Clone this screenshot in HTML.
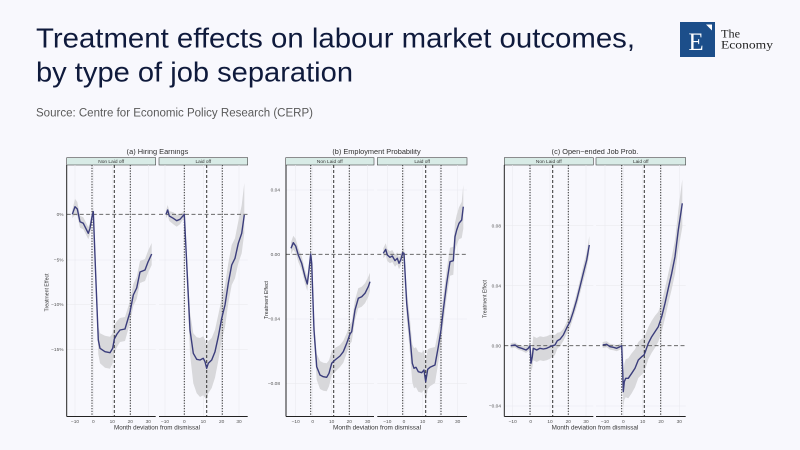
<!DOCTYPE html>
<html><head><meta charset="utf-8"><style>
html,body{margin:0;padding:0;background:#f8f8fd;}
svg{display:block;}
</style></head><body>
<svg width="800" height="450" viewBox="0 0 800 450" xmlns="http://www.w3.org/2000/svg">
<rect width="800" height="450" fill="#f8f8fd"/>
<!-- Header -->
<text x="36" y="47.3" font-family="Liberation Sans, sans-serif" font-size="28" fill="#0f1a3c" textLength="599" lengthAdjust="spacingAndGlyphs">Treatment effects on labour market outcomes,</text>
<text x="36" y="81.7" font-family="Liberation Sans, sans-serif" font-size="28" fill="#0f1a3c" textLength="317" lengthAdjust="spacingAndGlyphs">by type of job separation</text>
<text x="36" y="116.5" font-family="Liberation Sans, sans-serif" font-size="11.5" fill="#5a5a5a" textLength="277" lengthAdjust="spacingAndGlyphs">Source: Centre for Economic Policy Research (CERP)</text>
<!-- Logo -->
<rect x="680" y="22" width="35" height="35" fill="#1c4e8a"/>
<text x="696" y="50" font-family="Liberation Serif, serif" font-size="25" fill="#ffffff" text-anchor="middle">E</text>
<polygon points="706,24.5 712,24.5 712,30.5" fill="#ffffff"/>
<text x="721" y="37.5" font-family="Liberation Serif, serif" font-size="12" fill="#222" textLength="19" lengthAdjust="spacingAndGlyphs">The</text>
<text x="721" y="48.5" font-family="Liberation Serif, serif" font-size="12" fill="#222" textLength="52" lengthAdjust="spacingAndGlyphs">Economy</text>

<g font-family="Liberation Sans, sans-serif" filter="url(#bl)">
<defs><filter id="bl" x="0" y="0" width="1" height="1"><feGaussianBlur stdDeviation="0.35"/></filter></defs>

<!-- ========== PANEL A ========== -->
<text x="157.5" y="154" font-size="7" fill="#333" text-anchor="middle" textLength="61.7" lengthAdjust="spacingAndGlyphs">(a) Hiring Earnings</text>
<rect x="66.7" y="157.7" width="89" height="7.3" fill="#d8ebe6" stroke="#444" stroke-width="0.6"/>
<rect x="159" y="157.7" width="88.7" height="7.3" fill="#d8ebe6" stroke="#444" stroke-width="0.6"/>
<text x="111.2" y="163.2" font-size="4.8" fill="#333" text-anchor="middle">Non Laid off</text>
<text x="203.3" y="163.2" font-size="4.8" fill="#333" text-anchor="middle">Laid off</text>
<g stroke="#eaeaf0" stroke-width="0.6">
<line x1="75" y1="165" x2="75" y2="416"/><line x1="93.3" y1="165" x2="93.3" y2="416"/><line x1="112.3" y1="165" x2="112.3" y2="416"/><line x1="130.3" y1="165" x2="130.3" y2="416"/><line x1="148.3" y1="165" x2="148.3" y2="416"/>
<line x1="165" y1="165" x2="165" y2="416"/><line x1="184.3" y1="165" x2="184.3" y2="416"/><line x1="203.3" y1="165" x2="203.3" y2="416"/><line x1="221.7" y1="165" x2="221.7" y2="416"/><line x1="239" y1="165" x2="239" y2="416"/>
<line x1="66.7" y1="260" x2="155.7" y2="260"/><line x1="66.7" y1="304.3" x2="155.7" y2="304.3"/><line x1="66.7" y1="349.3" x2="155.7" y2="349.3"/>
<line x1="159" y1="260" x2="247.7" y2="260"/><line x1="159" y1="304.3" x2="247.7" y2="304.3"/><line x1="159" y1="349.3" x2="247.7" y2="349.3"/>
</g>
<g fill="#d8d8db">
<polygon points="72.3,210.3 75,198.7 77.3,202 80,215.7 83.3,217.3 88.3,227.3 90,222.3 92,211.7 93.3,207.7 95.5,260 98.3,326 100,333.3 105,335.7 110,336.7 112.7,333.3 114.3,325 117,321 120,318 125,317 130,301 133.3,284 136.7,277 140,261 145,259 148,251 151.7,243 151.7,265 148,273 145,281 140,283 136.7,299 133.3,306 130,323 125,341 120,342 117,347 114.3,353 112.7,363.3 110,368.7 105,367.7 100,363.3 98.3,354 95.5,280 93.3,215.7 92,221.7 90,234.3 88.3,239.3 83.3,229.3 80,227.7 77.3,216 75,214.7 72.3,218.3"/>
<polygon points="166,210.3 167.7,205 169.3,211 173.3,212.3 176.7,214.7 180,214.3 184.3,211.3 186.7,251.3 190,312 193.3,333.3 196.7,337.3 200,338 203.3,336.3 205,339.7 206.7,345.3 208.3,341.3 211.7,338 215,329.7 218.3,314.7 221.7,298.3 225,285 228.3,263.3 231.7,245 235,238.3 238.3,221.3 241.7,205.3 244.3,183 244.3,233 241.7,253.3 238.3,263.3 235,278.3 231.7,285 228.3,303.3 225,327 221.7,340.3 218.3,360.7 215,377.7 211.7,388 208.3,393.3 206.7,400.3 205,397.7 203.3,395.3 200,397 196.7,393.3 193.3,383.3 190,354 186.7,277.3 184.3,217.3 180,224.3 176.7,226.7 173.3,224.3 169.3,221 167.7,215 166,218.3"/>
</g>
<g stroke="#333" stroke-width="1" stroke-dasharray="1.3,1.4">
<line x1="92" y1="165" x2="92" y2="416"/><line x1="114.3" y1="165" x2="114.3" y2="416" stroke-dasharray="3,2"/><line x1="130.3" y1="165" x2="130.3" y2="416"/>
<line x1="184.3" y1="165" x2="184.3" y2="416"/><line x1="206.7" y1="165" x2="206.7" y2="416" stroke-dasharray="3,2"/><line x1="222.3" y1="165" x2="222.3" y2="416"/>
</g>
<g stroke="#555" stroke-width="0.9" stroke-dasharray="4,2.5">
<line x1="66.7" y1="214.3" x2="155.7" y2="214.3"/><line x1="159" y1="214.3" x2="247.7" y2="214.3"/>
</g>
<g fill="none" stroke="#3b3e7c" stroke-width="1.4" stroke-linejoin="round">
<polyline points="72.3,214.3 75,206.7 77.3,209 80,221.7 83.3,223.3 88.3,233.3 90,228.3 92,216.7 93.3,211.7 95.5,270 98.3,340 100,348.3 105,351.7 110,352.7 112.7,348.3 114.3,339 117,334 120,330 125,329 130,312 133.3,295 136.7,288 140,272 145,270 148,262 151.7,254"/>
<polyline points="166,214.3 167.7,210 169.3,216 173.3,218.3 176.7,220.7 180,219.3 184.3,214.3 186.7,263.3 190,330 193.3,353.3 196.7,359.3 200,360 203.3,358.3 205,361.7 206.7,368.3 208.3,363.3 211.7,360 215,351.7 218.3,336.7 221.7,318.3 225,305 228.3,283.3 231.7,265 235,258.3 238.3,243.3 241.7,233.3 244.3,215"/>
</g>
<g stroke="#222" stroke-width="1">
<line x1="66.7" y1="165" x2="66.7" y2="416.5"/>
<line x1="66.7" y1="416.5" x2="155.7" y2="416.5"/><line x1="159" y1="416.5" x2="247.7" y2="416.5"/>
</g>
<g font-size="4.8" fill="#555" text-anchor="end">
<text x="63.5" y="216">0%</text><text x="63.5" y="261.7">−5%</text><text x="63.5" y="306">−10%</text><text x="63.5" y="351">−15%</text>
</g>
<g font-size="4.8" fill="#555" text-anchor="middle">
<text x="75" y="423">−10</text><text x="93.3" y="423">0</text><text x="112.3" y="423">10</text><text x="130.3" y="423">20</text><text x="148.3" y="423">30</text>
<text x="165" y="423">−10</text><text x="184.3" y="423">0</text><text x="203.3" y="423">10</text><text x="221.7" y="423">20</text><text x="239" y="423">30</text>
</g>
<text x="157" y="429.5" font-size="6" fill="#333" text-anchor="middle" textLength="86" lengthAdjust="spacingAndGlyphs">Month deviation from dismissal</text>
<text transform="translate(48.5,292.5) rotate(-90)" font-size="5" fill="#333" text-anchor="middle" textLength="38" lengthAdjust="spacingAndGlyphs">Treatment Effect</text>

<!-- ========== PANEL B ========== -->
<text x="376.5" y="154" font-size="7" fill="#333" text-anchor="middle" textLength="88.3" lengthAdjust="spacingAndGlyphs">(b) Employment Probability</text>
<rect x="285.7" y="157.7" width="88.3" height="7.3" fill="#d8ebe6" stroke="#444" stroke-width="0.6"/>
<rect x="377.3" y="157.7" width="89.7" height="7.3" fill="#d8ebe6" stroke="#444" stroke-width="0.6"/>
<text x="329.8" y="163.2" font-size="4.8" fill="#333" text-anchor="middle">Non Laid off</text>
<text x="422.2" y="163.2" font-size="4.8" fill="#333" text-anchor="middle">Laid off</text>
<g stroke="#eaeaf0" stroke-width="0.6">
<line x1="295.7" y1="165" x2="295.7" y2="416"/><line x1="312.7" y1="165" x2="312.7" y2="416"/><line x1="331.7" y1="165" x2="331.7" y2="416"/><line x1="349.3" y1="165" x2="349.3" y2="416"/><line x1="367.7" y1="165" x2="367.7" y2="416"/>
<line x1="387.3" y1="165" x2="387.3" y2="416"/><line x1="404" y1="165" x2="404" y2="416"/><line x1="422.7" y1="165" x2="422.7" y2="416"/><line x1="440" y1="165" x2="440" y2="416"/><line x1="457.7" y1="165" x2="457.7" y2="416"/>
<line x1="286" y1="190" x2="374" y2="190"/><line x1="286" y1="319" x2="374" y2="319"/><line x1="286" y1="383.3" x2="374" y2="383.3"/>
<line x1="377.3" y1="190" x2="467" y2="190"/><line x1="377.3" y1="319" x2="467" y2="319"/><line x1="377.3" y1="383.3" x2="467" y2="383.3"/>
</g>
<g fill="#d8d8db">
<polygon points="291,242.3 293.3,235.7 295.7,239 298.3,248 301.7,256.3 305,269.7 307.3,277 309,263 310.7,249 311.7,256.3 314,319 316.7,353.7 320,361 323.3,362.7 326.7,363.3 329,360.3 331.7,351.3 335,348 340,345 343.3,340.7 346.7,333.3 350,324 351.7,321.7 355,300 358.3,288.3 361.7,286.7 365,283.3 368.3,276.7 370,272.7 370,290.7 368.3,296.7 365,303.3 361.7,306.7 358.3,308.3 355,320 351.7,341.7 350,344 346.7,353.3 343.3,362.7 340,367 335,372 331.7,375.3 329,386.3 326.7,391.3 323.3,390.7 320,389 316.7,379.7 314,341 311.7,270.3 310.7,259 309,277 307.3,291 305,283.7 301.7,270.3 298.3,262 295.7,253 293.3,249.7 291,254.3"/>
<polygon points="383.3,248.3 385.7,243.3 387.3,249 390,251.3 392.3,250 395,254.7 397.3,252.3 399,257.3 400.7,254 402.7,248.7 404,248.3 406.7,289.3 410,319.7 412.3,344.3 414,348.3 416,347.3 418.3,351.7 421.7,352.7 424,350 425.7,361.7 427.7,349.3 430,348.3 435,347 438.3,330.7 441,315 443.3,296 446.7,269.3 450,247.7 453.3,246.7 455,222.7 456.7,215 459,207.3 461.7,202 463.3,184.7 463.3,228.7 461.7,238 459,239.3 456.7,245 455,250.7 453.3,274.7 450,275.7 446.7,297.3 443.3,324 441,345 438.3,362.7 435,383 430,386.3 427.7,389.3 425.7,401.7 424,390 421.7,392.7 418.3,391.7 416,387.3 414,388.3 412.3,382.3 410,353.7 406.7,317.3 404,258.3 402.7,256.7 400.7,266 399,269.3 397.3,264.3 395,266.7 392.3,262 390,263.3 387.3,261 385.7,255.3 383.3,258.3"/>
</g>
<g stroke="#333" stroke-width="1" stroke-dasharray="1.3,1.4">
<line x1="310.7" y1="165" x2="310.7" y2="416"/><line x1="333.7" y1="165" x2="333.7" y2="416" stroke-dasharray="3,2"/><line x1="349.3" y1="165" x2="349.3" y2="416"/>
<line x1="402.7" y1="165" x2="402.7" y2="416"/><line x1="425.7" y1="165" x2="425.7" y2="416" stroke-dasharray="3,2"/><line x1="441" y1="165" x2="441" y2="416"/>
</g>
<g stroke="#555" stroke-width="0.9" stroke-dasharray="4,2.5">
<line x1="286" y1="254.3" x2="374" y2="254.3"/><line x1="377.3" y1="254.3" x2="467" y2="254.3"/>
</g>
<g fill="none" stroke="#3b3e7c" stroke-width="1.4" stroke-linejoin="round">
<polyline points="291,248.3 293.3,242.7 295.7,246 298.3,255 301.7,263.3 305,276.7 307.3,284 309,270 310.7,254 311.7,263.3 314,330 316.7,366.7 320,375 323.3,376.7 326.7,377.3 329,373.3 331.7,363.3 335,360 340,356 343.3,351.7 346.7,343.3 350,334 351.7,331.7 355,310 358.3,298.3 361.7,296.7 365,293.3 368.3,286.7 370,281.7"/>
<polyline points="383.3,253.3 385.7,249.3 387.3,255 390,257.3 392.3,256 395,260.7 397.3,258.3 399,263.3 400.7,260 402.7,252.7 404,253.3 406.7,303.3 410,336.7 412.3,363.3 414,368.3 416,367.3 418.3,371.7 421.7,372.7 424,370 425.7,381.7 427.7,369.3 430,367.3 435,365 438.3,346.7 441,330 443.3,310 446.7,283.3 450,261.7 453.3,260.7 455,236.7 456.7,230 459,223.3 461.7,220 463.3,206.7"/>
</g>
<g stroke="#222" stroke-width="1">
<line x1="286" y1="165" x2="286" y2="416.5"/>
<line x1="286" y1="416.5" x2="374" y2="416.5"/><line x1="377.3" y1="416.5" x2="467" y2="416.5"/>
</g>
<g font-size="4.8" fill="#555" text-anchor="end">
<text x="280" y="191.7">0.04</text><text x="280" y="256">0.00</text><text x="280" y="320.7">−0.04</text><text x="280" y="385">−0.08</text>
</g>
<g font-size="4.8" fill="#555" text-anchor="middle">
<text x="295.7" y="423">−10</text><text x="312.7" y="423">0</text><text x="331.7" y="423">10</text><text x="349.3" y="423">20</text><text x="367.7" y="423">30</text>
<text x="387.3" y="423">−10</text><text x="404" y="423">0</text><text x="422.7" y="423">10</text><text x="440" y="423">20</text><text x="457.7" y="423">30</text>
</g>
<text x="377" y="429.5" font-size="6" fill="#333" text-anchor="middle" textLength="88" lengthAdjust="spacingAndGlyphs">Month deviation from dismissal</text>
<text transform="translate(268,300) rotate(-90)" font-size="5" fill="#333" text-anchor="middle" textLength="38" lengthAdjust="spacingAndGlyphs">Treatment Effect</text>

<!-- ========== PANEL C ========== -->
<text x="595" y="154" font-size="7" fill="#333" text-anchor="middle" textLength="86.7" lengthAdjust="spacingAndGlyphs">(c) Open−ended Job Prob.</text>
<rect x="504.3" y="157.7" width="89" height="7.3" fill="#d8ebe6" stroke="#444" stroke-width="0.6"/>
<rect x="596" y="157.7" width="89.7" height="7.3" fill="#d8ebe6" stroke="#444" stroke-width="0.6"/>
<text x="548.8" y="163.2" font-size="4.8" fill="#333" text-anchor="middle">Non Laid off</text>
<text x="640.8" y="163.2" font-size="4.8" fill="#333" text-anchor="middle">Laid off</text>
<g stroke="#eaeaf0" stroke-width="0.6">
<line x1="512.7" y1="165" x2="512.7" y2="416"/><line x1="530.7" y1="165" x2="530.7" y2="416"/><line x1="550" y1="165" x2="550" y2="416"/><line x1="568.3" y1="165" x2="568.3" y2="416"/><line x1="586" y1="165" x2="586" y2="416"/>
<line x1="605" y1="165" x2="605" y2="416"/><line x1="623.3" y1="165" x2="623.3" y2="416"/><line x1="642.7" y1="165" x2="642.7" y2="416"/><line x1="661" y1="165" x2="661" y2="416"/><line x1="679.3" y1="165" x2="679.3" y2="416"/>
<line x1="504.3" y1="225.7" x2="593.3" y2="225.7"/><line x1="504.3" y1="285.7" x2="593.3" y2="285.7"/><line x1="504.3" y1="406" x2="593.3" y2="406"/>
<line x1="596" y1="225.7" x2="685.7" y2="225.7"/><line x1="596" y1="285.7" x2="685.7" y2="285.7"/><line x1="596" y1="406" x2="685.7" y2="406"/>
</g>
<g fill="#d8d8db">
<polygon points="510.7,343.2 515,342.5 518.3,344.8 521.7,345.8 526,347 528.3,345.3 530,342.7 531,355.3 532.3,345.7 533.3,336.3 536.7,338 540,336.3 543.3,337 546.7,336.3 550,334.7 552.7,334.7 555,335 557.3,332.7 560,332.3 563.3,329 567.3,320.7 570,315.7 573.3,305.7 576.7,293 580,279.7 583.3,265.3 586.7,252 589.3,236 589.3,254 586.7,268 583.3,281.3 580,293.7 576.7,307 573.3,317.7 570,327.7 567.3,332.7 563.3,341 560,346.3 557.3,348.7 555,355 552.7,356.7 550,358.7 546.7,360.3 543.3,361 540,360.3 536.7,362 533.3,360.3 532.3,367.7 531,371.3 530,348.7 528.3,351.3 526,353 521.7,350.8 518.3,349.8 515,347.5 510.7,348.2"/>
<polygon points="602.7,342 606.7,341.3 610,343.7 613.3,344.3 616.7,345.3 620,343.7 621.7,342.7 622.7,360 623.3,375.7 624.3,363.7 625.7,359.3 628.3,358.3 631.7,353.3 635,349.3 638.3,342 641.7,338.7 644,338 645.7,333.7 648.3,327.3 651.7,320.7 655,315.7 658.3,311.7 661.7,301.7 665,288.3 668.3,273.3 671.7,257.3 675,239.7 678.3,210 682.3,179.3 682.3,227.3 678.3,250 675,273.7 671.7,289.3 668.3,303.3 665,318.3 661.7,331.7 658.3,341.7 655,347.7 651.7,352.7 648.3,359.3 645.7,367.7 644,372 641.7,374.7 638.3,378 635,387.3 631.7,393.3 628.3,398.3 625.7,397.3 624.3,399.7 623.3,407.7 622.7,380 621.7,348.7 620,349.7 616.7,351.3 613.3,350.3 610,349.7 606.7,347.3 602.7,348"/>
</g>
<g stroke="#333" stroke-width="1" stroke-dasharray="1.3,1.4">
<line x1="530" y1="165" x2="530" y2="416"/><line x1="552.7" y1="165" x2="552.7" y2="416" stroke-dasharray="3,2"/><line x1="568.3" y1="165" x2="568.3" y2="416"/>
<line x1="621.7" y1="165" x2="621.7" y2="416"/><line x1="644.3" y1="165" x2="644.3" y2="416" stroke-dasharray="3,2"/><line x1="660.7" y1="165" x2="660.7" y2="416"/>
</g>
<g stroke="#555" stroke-width="0.9" stroke-dasharray="4,2.5">
<line x1="504.3" y1="345.7" x2="593.3" y2="345.7"/><line x1="596" y1="345.7" x2="685.7" y2="345.7"/>
</g>
<g fill="none" stroke="#3b3e7c" stroke-width="1.4" stroke-linejoin="round">
<polyline points="510.7,345.7 515,345 518.3,347.3 521.7,348.3 526,350 528.3,348.3 530,345.7 531,363.3 532.3,356.7 533.3,348.3 536.7,350 540,348.3 543.3,349 546.7,348.3 550,346.7 552.7,345.7 555,345 557.3,340.7 560,339.3 563.3,335 567.3,326.7 570,321.7 573.3,311.7 576.7,300 580,286.7 583.3,273.3 586.7,260 589.3,245"/>
<polyline points="602.7,345 606.7,344.3 610,346.7 613.3,347.3 616.7,348.3 620,346.7 621.7,345.7 622.7,370 623.3,391.7 624.3,381.7 625.7,378.3 628.3,378.3 631.7,373.3 635,368.3 638.3,360 641.7,356.7 644,355 645.7,350.7 648.3,343.3 651.7,336.7 655,331.7 658.3,326.7 661.7,316.7 665,303.3 668.3,288.3 671.7,273.3 675,256.7 678.3,230 682.3,203.3"/>
</g>
<g stroke="#222" stroke-width="1">
<line x1="504.3" y1="165" x2="504.3" y2="416.5"/>
<line x1="504.3" y1="416.5" x2="593.3" y2="416.5"/><line x1="596" y1="416.5" x2="685.7" y2="416.5"/>
</g>
<g font-size="4.8" fill="#555" text-anchor="end">
<text x="501" y="227.4">0.08</text><text x="501" y="287.4">0.04</text><text x="501" y="347.4">0.00</text><text x="501" y="407.7">−0.04</text>
</g>
<g font-size="4.8" fill="#555" text-anchor="middle">
<text x="512.7" y="423">−10</text><text x="530.7" y="423">0</text><text x="550" y="423">10</text><text x="568.3" y="423">20</text><text x="586" y="423">30</text>
<text x="605" y="423">−10</text><text x="623.3" y="423">0</text><text x="642.7" y="423">10</text><text x="661" y="423">20</text><text x="679.3" y="423">30</text>
</g>
<text x="595" y="429.5" font-size="6" fill="#333" text-anchor="middle" textLength="86.7" lengthAdjust="spacingAndGlyphs">Month deviation from dismissal</text>
<text transform="translate(486.5,299) rotate(-90)" font-size="5" fill="#333" text-anchor="middle" textLength="38" lengthAdjust="spacingAndGlyphs">Treatment Effect</text>
</g>
</svg>
</body></html>
